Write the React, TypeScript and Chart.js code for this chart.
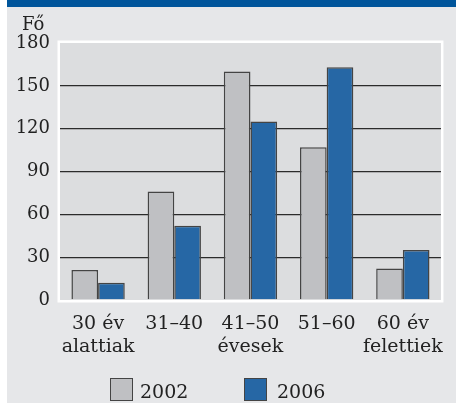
import React, { useEffect, useRef } from "react";
import { Chart, registerables } from "chart.js";

Chart.register(...registerables);

const categories: string[][] = [
  ["30 év", "alattiak"],
  ["31–40"],
  ["41–50", "évesek"],
  ["51–60"],
  ["60 év", "felettiek"],
];
const seriesLabels = ["2002", "2006"];
const values2002 = [21, 76, 160, 107, 22];
const values2006 = [12, 52, 125, 163, 35];
const yMin = 0;
const yMax = 180;
const yStep = 30;
const unitLabel = "Fő";

const FONT = "'DejaVu Serif', serif";
const BG = "#e6e7e9";
const PLOT_BG = "#dcdddf";
const GRAY = "#bfc0c3";
const BLUE = "#2667a5";
const BORDER = "#444444";
const TEXT = "#222";

const plotBgPlugin = {
  id: "plotBg",
  beforeDraw(chart: any) {
    const { ctx, chartArea } = chart;
    const { left, top, right, bottom } = chartArea;
    ctx.save();
    ctx.fillStyle = "#ffffff";
    ctx.fillRect(left - 2.5, top - 2.5, right - left + 5, bottom - top + 5);
    ctx.fillStyle = PLOT_BG;
    ctx.fillRect(left, top, right - left, bottom - top);
    ctx.restore();
  },
};

export default function App() {
  const ref = useRef<HTMLCanvasElement | null>(null);

  useEffect(() => {
    document.body.style.margin = "0";
    document.body.style.overflow = "hidden";
    const canvas = ref.current!;
    const chart = new Chart(canvas, {
      type: "bar",
      data: {
        labels: categories as any,
        datasets: [
          {
            label: seriesLabels[0],
            data: values2002,
            backgroundColor: GRAY,
            borderColor: BORDER,
            borderWidth: 1.5,
          },
          {
            label: seriesLabels[1],
            data: values2006,
            backgroundColor: BLUE,
            borderColor: BORDER,
            borderWidth: 1.5,
          },
        ],
      },
      options: {
        responsive: false,
        animation: false,
        maintainAspectRatio: false,
        layout: { padding: { top: 43, right: 13, left: 0, bottom: 0 } },
        plugins: {
          legend: { display: false },
          tooltip: { enabled: false },
        },
        datasets: {
          bar: { categoryPercentage: 0.7, barPercentage: 1 },
        },
        scales: {
          x: {
            grid: { display: false, drawTicks: false },
            border: { display: false },
            ticks: {
              color: TEXT,
              font: { family: FONT, size: 19, lineHeight: 1.24 },
              padding: 12,
              maxRotation: 0,
              autoSkip: false,
            },
            afterFit(scale: any) {
              scale.height = 103;
            },
          },
          y: {
            min: yMin,
            max: yMax,
            grid: {
              drawTicks: false,
              lineWidth: 1.3,
              color: (c: any) =>
                c.tick && (c.tick.value === yMin || c.tick.value === yMax)
                  ? "rgba(0,0,0,0)"
                  : "#2b2b2b",
            },
            border: { display: false },
            ticks: {
              stepSize: yStep,
              color: TEXT,
              font: { family: FONT, size: 18 },
              padding: 10,
            },
            afterFit(scale: any) {
              scale.width = 60;
            },
          },
        },
      },
      plugins: [plotBgPlugin],
    });
    return () => chart.destroy();
  }, []);

  const legendColors = [GRAY, BLUE];
  const legendBoxX = [110, 244];
  const legendTextX = [140, 277];

  return (
    <div style={{ position: "relative", width: 456, height: 403, overflow: "hidden", background: "#fff" }}>
      <div
        style={{
          position: "absolute",
          left: 7,
          top: 0,
          width: 449,
          height: 403,
          background: BG,
          borderTop: "7px solid #00559b",
          boxSizing: "border-box",
        }}
      />
      <canvas
        ref={ref}
        width={456}
        height={403}
        style={{ position: "absolute", left: 0, top: 0, width: 456, height: 403 }}
      />
      <div
        style={{
          position: "absolute",
          left: 22,
          top: 13,
          fontFamily: FONT,
          fontSize: 18,
          color: TEXT,
          lineHeight: "normal",
        }}
      >
        {unitLabel}
      </div>
      {seriesLabels.map((s, i) => (
        <React.Fragment key={s}>
          <div
            style={{
              position: "absolute",
              left: legendBoxX[i],
              top: 378,
              width: 23,
              height: 23,
              boxSizing: "border-box",
              border: `1.5px solid ${BORDER}`,
              background: legendColors[i],
            }}
          />
          <div
            style={{
              position: "absolute",
              left: legendTextX[i],
              top: 380,
              fontFamily: FONT,
              fontSize: 19,
              color: TEXT,
              lineHeight: "normal",
            }}
          >
            {s}
          </div>
        </React.Fragment>
      ))}
    </div>
  );
}
